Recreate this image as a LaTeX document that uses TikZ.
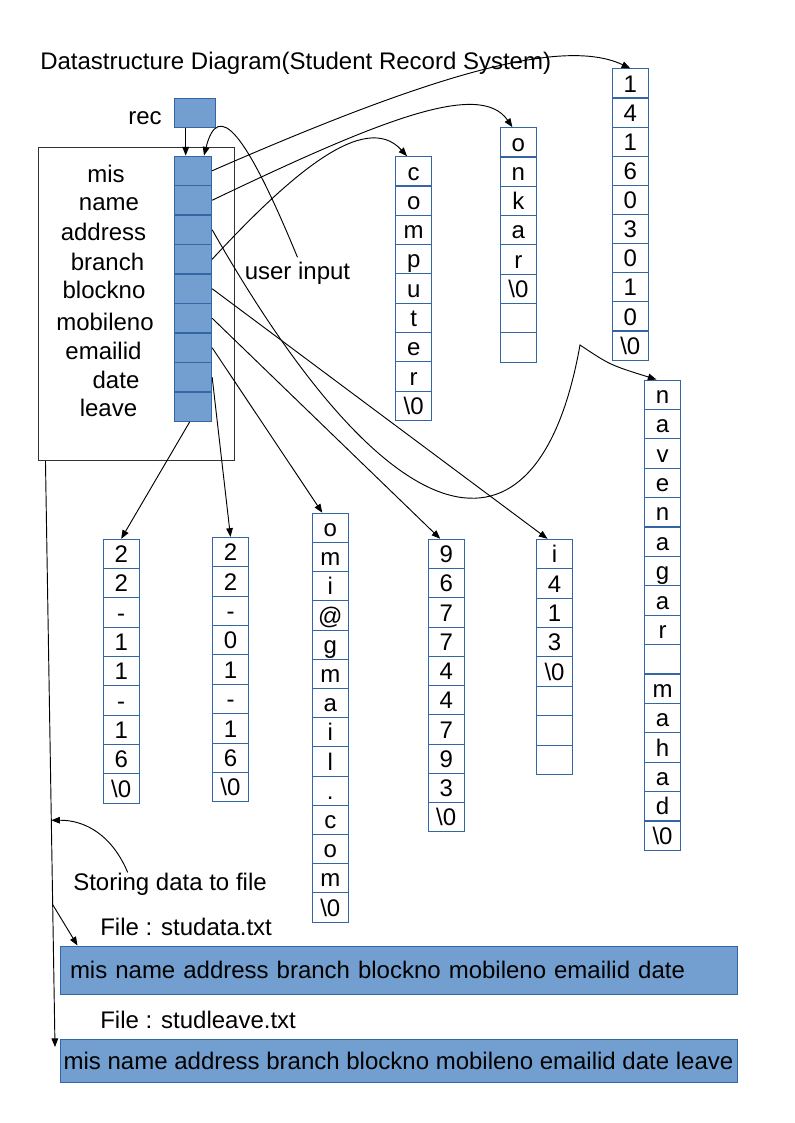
\documentclass[tikz,border=0pt]{standalone}
\usepackage{fontspec}
\setmainfont{Liberation Sans}
\usetikzlibrary{calc,arrows.meta}

\definecolor{cellblue}{HTML}{3465A4}
\definecolor{fillblue}{HTML}{729FCF}

\begin{document}
\begin{tikzpicture}[x=0.75pt, y=-0.75pt,
    font=\fontsize{18}{21}\selectfont,
    lbltext/.style={inner sep=0pt},
    cell/.style={draw=cellblue, line width=0.75pt, minimum width=27pt, minimum height=22pt,
                 inner sep=0pt, text height=14pt, text depth=1pt},
    fieldcell/.style={cell, fill=fillblue, minimum width=28pt},
    link/.style={line width=0.7pt, -{Triangle[length=6.5pt,width=5pt]}},
    filebox/.style={draw=cellblue, fill=fillblue, line width=0.75pt, minimum width=507.75pt, inner sep=0pt}]

    \useasboundingbox (0,0) rectangle (794,1123);

    % Title and pointer
    \node[lbltext, anchor=base west] (title) at (40,70) {Datastructure Diagram(Student Record System)};
    \node[fieldcell, minimum width=30.5pt] (rec) at (194.7,113) {};
    \node[lbltext, anchor=base east] (reclbl) at (162,125) {rec};

    % Record structure (outer box, fields and their names)
    \node[draw=black!80, line width=0.75pt, minimum width=147pt, minimum height=235pt] (recblock) at (136.3,304) {};
    \foreach \i in {1,...,9}
        \node[fieldcell] (fld-\i) at (193, {156+29.5*(\i-0.5)}) {};
    \foreach \f/\x/\y [count=\i] in {mis/106/182.7, name/109/210, address/103.5/240,
            branch/107.5/270, blockno/104/298, mobileno/105/330, emailid/103.5/359,
            date/116/388, leave/108.5/416}
        \node[lbltext, anchor=base] (lbl-\i) at (\x,\y) {\f};
    \node[lbltext, anchor=base] (uinput) at (297.5,279) {user input};

    % Strings held by the fields
    \foreach \c [count=\i] in {c,o,m,p,u,t,e,r,\textbackslash0}
        \node[cell] (comp-\i) at (413.7, {156.7+29.3*(\i-0.5)}) {\c};
    \foreach \c [count=\i] in {o,n,k,a,r,\textbackslash0,{},{}}
        \node[cell] (onkar-\i) at (518.4, {127.7+29.3*(\i-0.5)}) {\c};
    \foreach \c [count=\i] in {1,4,1,6,0,3,0,1,0,\textbackslash0}
        \node[cell] (num-\i) at (630.3, {69+29.1*(\i-0.5)}) {\c};
    \foreach \c [count=\i] in {n,a,v,e,n,a,g,a,r,{},m,a,h,a,d,\textbackslash0}
        \node[cell] (nav-\i) at (662.5, {380+29.4*(\i-0.5)}) {\c};
    \foreach \c [count=\i] in {2,2,-,1,1,-,1,6,\textbackslash0}
        \node[cell] (d1-\i) at (121.2, {539.3+29.3*(\i-0.5)}) {\c};
    \foreach \c [count=\i] in {2,2,-,0,1,-,1,6,\textbackslash0}
        \node[cell] (d2-\i) at (230.5, {537.3+29.4*(\i-0.5)}) {\c};
    \foreach \c [count=\i] in {o,m,i,@,g,m,a,i,l,.,c,o,m,\textbackslash0}
        \node[cell] (mail-\i) at (330.3, {513.3+29.2*(\i-0.5)}) {\c};
    \foreach \c [count=\i] in {9,6,7,7,4,4,7,9,3,\textbackslash0}
        \node[cell] (mob-\i) at (446.2, {539.3+29.25*(\i-0.5)}) {\c};
    \foreach \c [count=\i] in {i,4,1,3,\textbackslash0,{},{},{}}
        \node[cell] (blk-\i) at (554.5, {539.3+29.4*(\i-0.5)}) {\c};

    % Pointers from the fields
    \draw[link] ([xshift=-6.75pt]rec.south) -- ([xshift=-6.75pt]rec.south |- fld-1.north);
    \draw[link] ([yshift=3pt]uinput.north) .. controls (245,130) and (218,100) .. ([xshift=8.25pt]fld-1.north);
    \draw[link] (fld-1.east) .. controls (420,80) and (560,35) .. (num-1.north);
    \draw[link] (fld-2.east) .. controls (380,120) and (480,80) .. ([xshift=-4.5pt]onkar-1.north);
    \draw[link] (fld-3.east) .. controls (400,560) and (540,570) .. (580,345)
                .. controls (610,365) .. ([xshift=-4.5pt]nav-1.north);
    \draw[link] (fld-4.east) .. controls (290,175) and (365,110) .. ([xshift=-5pt]comp-1.north);
    \draw[link] (fld-5.east) -- ([xshift=-5.25pt]blk-1.north);
    \draw[link] (fld-6.east) -- ([xshift=-4.5pt]mob-1.north);
    \draw[link] (fld-7.east) -- ([xshift=-6pt]mail-1.north);
    \draw[link] (fld-8.east) -- (d2-1.north);
    \draw[link] ([xshift=-2.5pt]fld-9.south) -- (d1-1.north);

    % Files
    \node[lbltext, anchor=base west] (store) at (73,890) {Storing data to file};
    \node[lbltext, anchor=base west] (datalbl) at (100,935) {File : studata.txt};
    \node[filebox, minimum height=36pt, inner xsep=7.5pt, text width=492.75pt, align=left] (datafile)
        at (398.5,970) {mis name address branch blockno mobileno emailid date};
    \node[lbltext, anchor=base west] (leavelbl) at (100,1028) {File : studleave.txt};
    \node[filebox, minimum height=32.25pt] (leavefile)
        at (398.5,1060.5) {mis name address branch blockno mobileno emailid date leave};

    % Writing the record out
    \coordinate (drop) at ([xshift=5.75pt]recblock.south west);
    \coordinate (leaveend) at (55,1047);
    \coordinate (split) at ($(drop)!0.757!(leaveend)$);
    \coordinate (storept) at ($(drop)!0.613!(leaveend)$);
    \draw[link] (drop) -- (leaveend);
    \draw[link] (split) -- ([xshift=13.5pt]datafile.north west);
    \draw[link] ([xshift=41pt]store.north west) .. controls (112,835) and (85,820) .. (storept);

\end{tikzpicture}
\end{document}
